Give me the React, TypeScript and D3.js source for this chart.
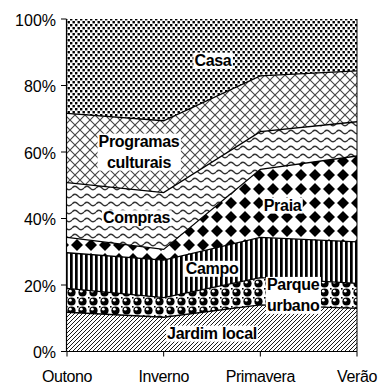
import React, { useEffect, useRef } from "react";
import * as d3 from "d3";

const categories = ["Outono", "Inverno", "Primavera", "Verão"];
const seriesNames = ["Jardim local", "Parque urbano", "Campo", "Praia", "Compras", "Programas culturais", "Casa"];
const jardimLocal = [11.8, 10.3, 14.0, 13.0];
const parqueUrbano = [7.2, 5.9, 8.2, 7.5];
const campo = [10.7, 11.3, 12.1, 12.5];
const praia = [4.6, 3.2, 20.5, 25.8];
const compras = [16.5, 17.1, 11.3, 10.3];
const programasCulturais = [20.8, 21.6, 16.8, 15.3];
const casa = [28.4, 30.6, 17.1, 15.6];
const seriesValues = [jardimLocal, parqueUrbano, campo, praia, compras, programasCulturais, casa];
const yTicks = [0, 20, 40, 60, 80, 100];

// label anchors: fractional category index, value in percent
const labelLines = [["Jardim local"], ["Parque", "urbano"], ["Campo"], ["Praia"], ["Compras"], ["Programas", "culturais"], ["Casa"]];
const labelAtIndex = [1.5, 2.34, 1.5, 2.23, 0.72, 0.745, 1.51];
const labelAtValue = [5.6, 17.1, 25.1, 44.1, 40.3, 60.2, 87.7];

const W = 382, H = 385;
const left = 67, right = 357, top = 19, bottom = 351.5;

export default function App() {
  const ref = useRef<SVGSVGElement>(null);
  useEffect(() => {
    document.body.style.margin = "0";
    const svg = d3.select(ref.current);
    svg.selectAll("*").remove();
    const defs = svg.append("defs");

    const pat = (id: string, w: number, h: number) =>
      defs.append("pattern").attr("id", id).attr("patternUnits", "userSpaceOnUse").attr("width", w).attr("height", h);

    // Jardim local: upward diagonal lines
    const p0 = pat("p0", 4, 4);
    p0.append("rect").attr("width", 4).attr("height", 4).attr("fill", "#fff");
    p0.append("path").attr("d", "M0,4 L4,0 M-1,1 L1,-1 M3,5 L5,3").attr("stroke", "#000").attr("stroke-width", 0.9);
    // Parque urbano: spheres
    const p1 = pat("p1", 11, 9);
    p1.append("rect").attr("width", 11).attr("height", 9).attr("fill", "#fff");
    p1.append("circle").attr("cx", 5.5).attr("cy", 4.5).attr("r", 4.1).attr("fill", "#000");
    p1.append("circle").attr("cx", 4.3).attr("cy", 3.2).attr("r", 1.4).attr("fill", "#fff");
    p1.append("rect").attr("x", 0).attr("y", 0).attr("width", 1.6).attr("height", 1.6).attr("fill", "#000");
    // Campo: vertical stripes
    const p2 = pat("p2", 5, 5);
    p2.append("rect").attr("width", 5).attr("height", 5).attr("fill", "#fff");
    p2.append("rect").attr("width", 2.7).attr("height", 5).attr("fill", "#000");
    // Praia: solid diamonds
    const p3 = pat("p3", 14, 14);
    p3.append("rect").attr("width", 14).attr("height", 14).attr("fill", "#fff");
    p3.append("path").attr("d", "M7,1 L13,7 L7,13 L1,7 Z").attr("fill", "#000");
    // Compras: waves
    const p4 = pat("p4", 12, 8);
    p4.append("rect").attr("width", 12).attr("height", 8).attr("fill", "#fff");
    p4.append("path").attr("d", "M0,4 Q3,0.5 6,4 T12,4").attr("fill", "none").attr("stroke", "#333").attr("stroke-width", 1.3);
    // Programas culturais: diagonal crosshatch
    const p5 = pat("p5", 10, 10);
    p5.append("rect").attr("width", 10).attr("height", 10).attr("fill", "#fff");
    p5.append("path").attr("d", "M0,0 L10,10 M10,0 L0,10").attr("stroke", "#444").attr("stroke-width", 1.1);
    // Casa: staggered dots
    const p6 = pat("p6", 5, 6);
    p6.append("rect").attr("width", 5).attr("height", 6).attr("fill", "#fff");
    p6.append("rect").attr("x", 0).attr("y", 0).attr("width", 2.4).attr("height", 2.4).attr("fill", "#000");
    p6.append("rect").attr("x", 2.5).attr("y", 3).attr("width", 2.4).attr("height", 2.4).attr("fill", "#000");

    const x = d3.scalePoint<string>().domain(categories).range([left, right]);
    const y = d3.scaleLinear().domain([0, 100]).range([bottom, top]);
    const xi = d3.scaleLinear().domain([0, categories.length - 1]).range([left, right]);

    const table = categories.map((c, i) => {
      const row: any = { cat: c };
      seriesNames.forEach((s, k) => (row[s] = seriesValues[k][i]));
      return row;
    });
    const stacked = d3.stack<any>().keys(seriesNames).offset(d3.stackOffsetExpand)(table);

    const area = d3.area<any>()
      .x((d) => x(d.data.cat)!)
      .y0((d) => y(d[0] * 100))
      .y1((d) => y(d[1] * 100));
    const line = d3.line<any>().x((d) => x(d.data.cat)!).y((d) => y(d[1] * 100));

    const g = svg.append("g");
    stacked.forEach((s, k) => {
      g.append("path").attr("d", area(s)!).attr("fill", `url(#p${k})`).attr("stroke", "none");
    });
    stacked.forEach((s, k) => {
      if (k < stacked.length - 1)
        g.append("path").attr("d", line(s)!).attr("fill", "none").attr("stroke", "#000").attr("stroke-width", 1.3);
    });
    // right edge
    g.append("line").attr("x1", right).attr("x2", right).attr("y1", y(0)).attr("y2", y(100)).attr("stroke", "#000").attr("stroke-width", 1);

    // axes
    const axisColor = "#000";
    g.append("line").attr("x1", left - 0.5).attr("x2", left - 0.5).attr("y1", y(0)).attr("y2", y(100)).attr("stroke", axisColor).attr("stroke-width", 1.2);
    g.append("line").attr("x1", left - 0.5).attr("x2", right).attr("y1", y(0)).attr("y2", y(0)).attr("stroke", axisColor).attr("stroke-width", 1.2);
    yTicks.forEach((t) => {
      g.append("line").attr("x1", left - 6).attr("x2", left - 0.5).attr("y1", y(t)).attr("y2", y(t)).attr("stroke", axisColor).attr("stroke-width", 1);
      g.append("text").attr("x", left - 11).attr("y", y(t)).attr("dy", "0.42em").attr("text-anchor", "end")
        .attr("font-family", "Arial, 'Liberation Sans', sans-serif").attr("font-size", 16).attr("fill", "#000").text(`${t}%`);
    });
    categories.forEach((c) => {
      g.append("line").attr("x1", x(c)!).attr("x2", x(c)!).attr("y1", y(0)).attr("y2", y(0) + 5).attr("stroke", axisColor).attr("stroke-width", 1);
      g.append("text").attr("x", x(c)!).attr("y", 382).attr("text-anchor", "middle")
        .attr("font-family", "Arial, 'Liberation Sans', sans-serif").attr("font-size", 16).attr("letter-spacing", -0.4).attr("fill", "#000").text(c);
    });

    // labels
    labelLines.forEach((lines, k) => {
      const cx = xi(labelAtIndex[k]);
      const cy = y(labelAtValue[k]);
      const lh = 21;
      const lg = g.append("g");
      const rect = lg.append("rect").attr("fill", "#fff");
      const txt = lg.append("text").attr("text-anchor", "middle")
        .attr("font-family", "Arial, 'Liberation Sans', sans-serif").attr("font-size", 16).attr("font-weight", "bold")
        .attr("letter-spacing", -0.3).attr("fill", "#000");
      lines.forEach((ln, j) => {
        txt.append("tspan").attr("x", cx).attr("y", cy + (j - (lines.length - 1) / 2) * lh).attr("dy", "0.36em").text(ln);
      });
      const bb = (txt.node() as SVGTextElement).getBBox();
      rect.attr("x", bb.x - 1).attr("y", bb.y + 1).attr("width", bb.width + 2).attr("height", bb.height - 1);
    });
  }, []);
  return <svg ref={ref} width={W} height={H} style={{ display: "block" }} />;
}
